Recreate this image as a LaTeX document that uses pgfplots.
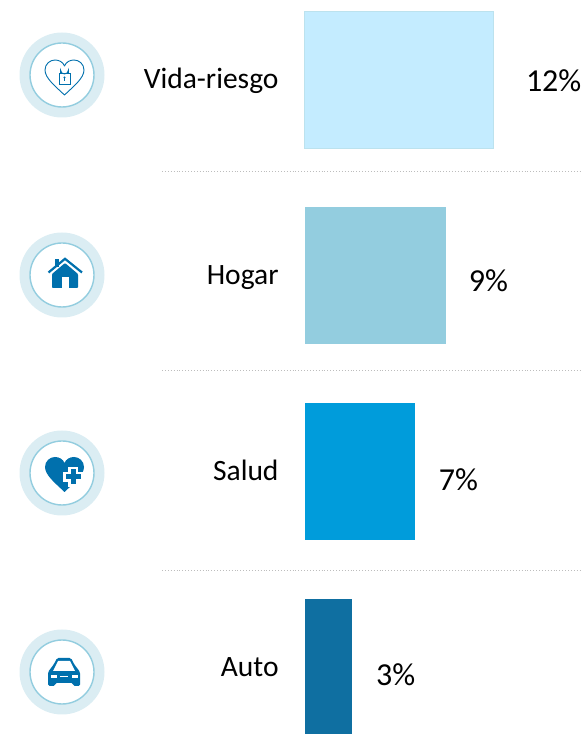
\documentclass[border=0pt]{standalone}
\usepackage{fontspec}
\setmainfont{Carlito}
\usepackage{pgfplots}
\pgfplotsset{compat=1.18}
\definecolor{barA}{HTML}{C4ECFF}
\definecolor{barAedge}{HTML}{BCE2EE}
\definecolor{barB}{HTML}{93CDDF}
\definecolor{barC}{HTML}{009CDB}
\definecolor{barD}{HTML}{0F6FA1}
\definecolor{halo}{HTML}{DBEDF3}
\definecolor{ring}{HTML}{93CDDF}
\definecolor{icon}{HTML}{0070AD}
\definecolor{sep}{HTML}{BDBDBD}

% heart outline, in reference pixels (y pointing down)
\newcommand{\heartpath}{(64.5,95) .. controls (55,86) and (45,78) .. (45,70)
  .. controls (45,64) and (50,60) .. (55,60) .. controls (59,60) and (63,62) .. (64.5,66)
  .. controls (66,62) and (70,60) .. (74,60) .. controls (79,60) and (84,64) .. (84,70)
  .. controls (84,78) and (74,86) .. cycle}
\newcommand{\badge}[1]{%
  \fill[halo] (62,#1) circle[radius=42.5];
  \fill[white] (62,#1) circle[radius=32];
  \draw[ring,line width=1.4pt] (62,#1) circle[radius=32];}

\begin{document}
\begin{tikzpicture}[x=1pt,y=1pt]
\useasboundingbox (0,0) rectangle (582,734);
\begin{axis}[
    at={(0,0)}, anchor=south west,
    scale only axis,
    width=582pt, height=734pt,
    xbar, bar shift=0pt, bar width=137pt,
    xmin=-19.4, xmax=17.65,
    ymin=-0.408, ymax=3.337,
    y dir=reverse,
    axis line style={draw=none},
    tick style={draw=none},
    xtick=\empty,
    ytick={0,1,2,3},
    yticklabels={Vida-riesgo,Hogar,Salud,Auto},
    y tick label style={font=\fontsize{29.5}{31}\selectfont, anchor=base east, xshift=283pt, yshift=-9pt, inner sep=0pt},
    point meta=x,
    /pgf/number format/assume math mode=true,
    nodes near coords={\pgfmathprintnumber{\pgfplotspointmeta}\%},
    nodes near coords style={font=\fontsize{32}{34}\selectfont, anchor=base west, inner sep=0pt, text=black},
]
\addplot[draw=barAedge, line width=1.5pt, fill=barA, every node near coord/.append style={xshift=32pt,yshift=-12pt}] coordinates {(12,0)};
\addplot[draw=none, fill=barB, every node near coord/.append style={xshift=22.5pt,yshift=-16pt}] coordinates {(9,1)};
\addplot[draw=none, fill=barC, every node near coord/.append style={xshift=24pt,yshift=-19pt}] coordinates {(7,2)};
\addplot[draw=none, fill=barD, every node near coord/.append style={xshift=24pt,yshift=-18pt}] coordinates {(3,3)};
\end{axis}

\begin{scope}[yshift=734pt,y=-1pt]
% separators
\draw[sep,line width=0.9pt,dotted] (162,171) -- (582,171);
\draw[sep,line width=0.9pt,dotted] (162,370) -- (582,370);
\draw[sep,line width=0.9pt,dotted] (162,570) -- (582,570);

% life: heart and padlock
\badge{75}
\draw[icon,line width=0.9pt,line join=round] \heartpath;
\draw[icon,line width=0.9pt] (59,73) rectangle (70,84);
\draw[icon,line width=0.9pt] (60.5,73) -- (60.5,70) arc[start angle=180,end angle=0,radius=4] -- (68.5,73);
\fill[icon] (64.5,77.5) circle[radius=1.2];
\draw[icon,line width=0.7pt] (64.5,78) -- (64.5,81);

% home
\badge{275}
\fill[icon,rounded corners=0.8pt] (65,263) -- (78,274) -- (78,288) -- (52,288) -- (52,274) -- cycle;
\fill[white] (62,277.5) rectangle (69,288.5);
\fill[icon] (55,259) rectangle (58.5,267);
\draw[icon,line width=2.2pt] (48.5,272.5) -- (65,258.8) -- (82,272.5);

% health: heart with a cross
\badge{473}
\begin{scope}[shift={(0,397)}]
\fill[icon] \heartpath;
\end{scope}
\fill[white] (63,472) rectangle (83,482);
\fill[white] (68,467) rectangle (78,487);
\fill[icon] (65.5,474.5) rectangle (80.5,479.5);
\fill[icon] (70.5,469.5) rectangle (75.5,484.5);

% car
\badge{672}
\fill[icon,rounded corners=1.5pt] (54,664) -- (57,658) -- (71,658) -- (74,664) -- (80,672) -- (80,686) -- (73,686) -- (73,683) -- (55,683) -- (55,686) -- (48,686) -- (48,672) -- cycle;
\fill[white] (58,661) -- (70,661) -- (75,671) -- (53,671) -- cycle;
\fill[white] (50.5,675.5) rectangle (56.5,678);
\fill[white] (71.5,675.5) rectangle (77.5,678);
\fill[white] (60,676) rectangle (68,677.5);
\end{scope}
\end{tikzpicture}
\end{document}
